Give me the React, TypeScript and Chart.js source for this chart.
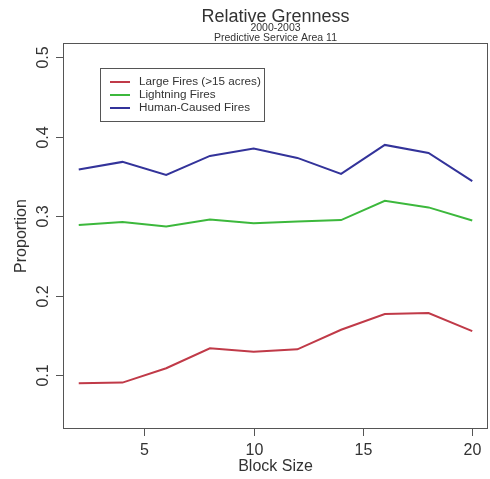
import React, { useEffect, useRef } from "react";
import { Chart, registerables } from "chart.js";

Chart.register(...registerables);

const blockSizes = [2, 4, 6, 8, 10, 12, 14, 16, 18, 20];
const largeFires = [0.0896, 0.0904, 0.1085, 0.1336, 0.1293, 0.1323, 0.157, 0.1767, 0.178, 0.1553];
const lightningFires = [0.289, 0.2925, 0.287, 0.2958, 0.2912, 0.2933, 0.295, 0.3193, 0.311, 0.2946];
const humanFires = [0.3587, 0.3683, 0.352, 0.3758, 0.385, 0.3733, 0.3532, 0.3897, 0.3796, 0.344];
const xTicks = [5, 10, 15, 20];
const yTicks = [0.1, 0.2, 0.3, 0.4, 0.5];
const seriesNames = ["Large Fires (>15 acres)", "Lightning Fires", "Human-Caused Fires"];
const seriesColors = ["#c03a48", "#3cb83c", "#33339a"];

const FONT = "Arial, 'Liberation Sans', sans-serif";

const rPlot = {
  id: "rPlot",
  afterDraw(chart: any) {
    const ctx = chart.ctx as CanvasRenderingContext2D;
    const a = chart.chartArea;
    const xs = chart.scales.x;
    const ys = chart.scales.y;
    ctx.save();
    ctx.strokeStyle = "#555";
    ctx.lineWidth = 1;
    ctx.strokeRect(a.left + 0.5, a.top + 0.5, a.right - a.left - 1, a.bottom - a.top - 1);
    ctx.fillStyle = "#333";
    // x ticks
    ctx.font = `16px ${FONT}`;
    ctx.textAlign = "center";
    ctx.textBaseline = "middle";
    for (const t of xTicks) {
      const px = Math.round(xs.getPixelForValue(t)) + 0.5;
      ctx.beginPath();
      ctx.moveTo(px, a.bottom);
      ctx.lineTo(px, a.bottom + 7);
      ctx.stroke();
      ctx.fillText(String(t), px, a.bottom + 22);
    }
    ctx.fillText("Block Size", (a.left + a.right) / 2, a.bottom + 38);
    // y ticks
    for (const t of yTicks) {
      const py = Math.round(ys.getPixelForValue(t)) + 0.5;
      ctx.beginPath();
      ctx.moveTo(a.left, py);
      ctx.lineTo(a.left - 7, py);
      ctx.stroke();
      ctx.save();
      ctx.translate(a.left - 19, py);
      ctx.rotate(-Math.PI / 2);
      ctx.fillText(t.toFixed(1), 0, 0);
      ctx.restore();
    }
    ctx.save();
    ctx.translate(22, (a.top + a.bottom) / 2);
    ctx.rotate(-Math.PI / 2);
    ctx.fillText("Proportion", 0, 0);
    ctx.restore();
    // titles
    const cx = (a.left + a.right) / 2;
    ctx.font = `18px ${FONT}`;
    ctx.fillText("Relative Grenness", cx, 17);
    ctx.font = `10.5px ${FONT}`;
    ctx.fillText("2000-2003", cx, 28);
    ctx.fillText("Predictive Service Area 11", cx, 38);
    // legend
    ctx.strokeStyle = "#555";
    ctx.lineWidth = 1;
    ctx.strokeRect(100.5, 68.5, 164, 53);
    ctx.font = `11.7px ${FONT}`;
    ctx.textAlign = "left";
    seriesNames.forEach((name, i) => {
      const y = 82 + i * 13;
      ctx.strokeStyle = seriesColors[i];
      ctx.lineWidth = 2;
      ctx.beginPath();
      ctx.moveTo(110, y);
      ctx.lineTo(130, y);
      ctx.stroke();
      ctx.fillStyle = "#333";
      ctx.fillText(name, 139, y);
    });
    ctx.restore();
  },
};

export default function App() {
  const ref = useRef<HTMLCanvasElement>(null);
  useEffect(() => {
    document.body.style.margin = "0";
    const mk = (vals: number[]) => blockSizes.map((x, i) => ({ x, y: vals[i] }));
    const chart = new Chart(ref.current!, {
      type: "line",
      data: {
        datasets: [largeFires, lightningFires, humanFires].map((vals, i) => ({
          label: seriesNames[i],
          data: mk(vals),
          borderColor: seriesColors[i],
          backgroundColor: seriesColors[i],
          borderWidth: 2,
          pointRadius: 0,
          tension: 0,
          fill: false,
        })),
      },
      options: {
        animation: false,
        responsive: false,
        devicePixelRatio: 1,
        layout: { padding: { left: 63, right: 2, top: 43, bottom: 50 } },
        plugins: { legend: { display: false }, tooltip: { enabled: false }, title: { display: false } },
        scales: {
          x: { type: "linear", min: 1.28, max: 20.72, display: false },
          y: { type: "linear", min: 0.032, max: 0.518, display: false },
        },
      },
      plugins: [rPlot],
    });
    return () => chart.destroy();
  }, []);
  return <canvas ref={ref} width={490} height={479} style={{ display: "block" }} />;
}
